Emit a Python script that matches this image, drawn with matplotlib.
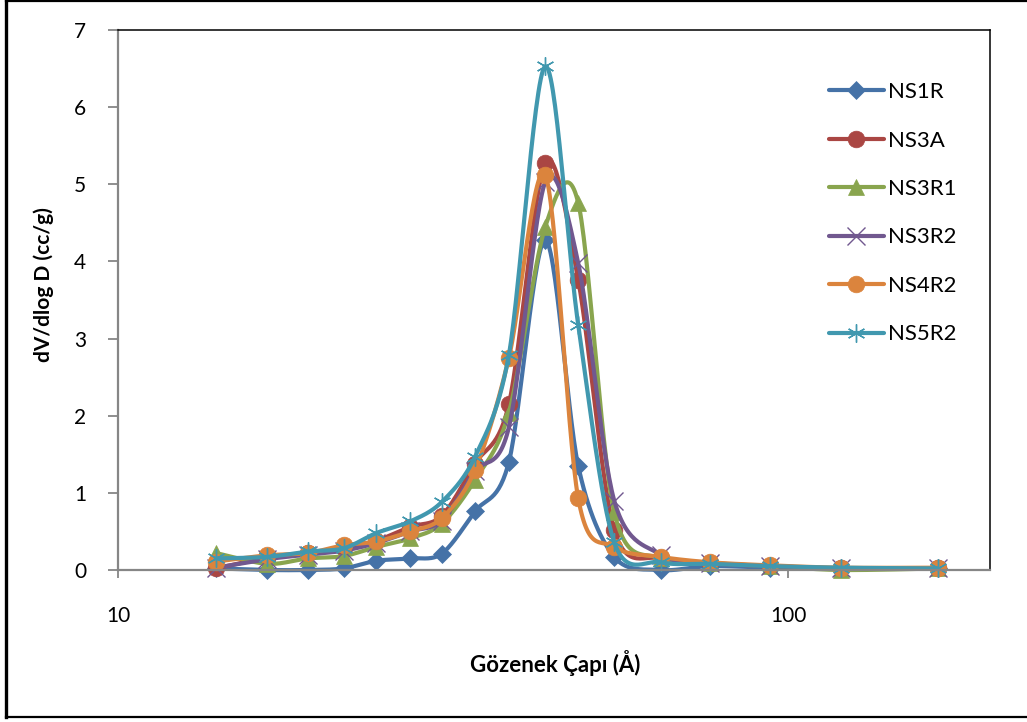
import numpy as np
import matplotlib.pyplot as plt
from matplotlib.lines import Line2D
from matplotlib.ticker import FixedLocator, NullLocator, FixedFormatter

plt.rcParams['font.family'] = ['Lato', 'DejaVu Sans']

# gözenek çapı (Å) ve dV/dlogD değerleri
pore_d = [14.0, 16.7, 19.2, 21.7, 24.3, 27.3, 30.4, 34.1, 38.3, 43.4,
          48.6, 55.0, 64.5, 76.4, 94.0, 120.0, 167.0]

ns1r = [0.02, 0.0, 0.0, 0.02, 0.12, 0.15, 0.21, 0.76, 1.40, 4.28,
        1.35, 0.17, 0.0, 0.05, 0.03, 0.02, 0.02]
ns3a = [0.02, 0.16, 0.22, 0.28, 0.38, 0.56, 0.70, 1.38, 2.15, 5.28,
        3.76, 0.52, 0.15, 0.09, 0.05, 0.02, 0.02]
ns3r1 = [0.22, 0.08, 0.15, 0.18, 0.30, 0.41, 0.60, 1.17, 2.04, 4.45,
         4.76, 0.75, 0.15, 0.09, 0.05, 0.0, 0.02]
ns3r2 = [0.03, 0.14, 0.20, 0.25, 0.35, 0.50, 0.64, 1.28, 1.85, 5.03,
         3.98, 0.90, 0.20, 0.09, 0.05, 0.02, 0.02]
ns4r2 = [0.11, 0.19, 0.22, 0.32, 0.37, 0.50, 0.67, 1.30, 2.75, 5.12,
         0.93, 0.30, 0.17, 0.10, 0.06, 0.03, 0.03]
ns5r2 = [0.15, 0.17, 0.24, 0.28, 0.48, 0.63, 0.88, 1.47, 2.79, 6.53,
         3.18, 0.36, 0.10, 0.08, 0.05, 0.03, 0.02]

names = ['NS1R', 'NS3A', 'NS3R1', 'NS3R2', 'NS4R2', 'NS5R2']
series = [ns1r, ns3a, ns3r1, ns3r2, ns4r2, ns5r2]
colors = ['#4572A7', '#AA4643', '#89A54E', '#71588F', '#DB843D', '#4198AF']
markers = ['D', 'o', '^', 'x', 'o', (6, 2, 0)]
msizes = [9, 12, 11, 13, 12, 13]

N = 30


def smooth(x, y, n=N, k=1 / 6.5):
    # excel tarzı yumuşatılmış çizgi (bezier, log x ekseninde)
    P = np.column_stack([np.log10(x), np.asarray(y, float)])
    Pe = np.vstack([P[0], P, P[-1]])
    t = np.linspace(0, 1, n + 1)[1:, None]
    out = [P[0:1]]
    for i in range(len(P) - 1):
        p0, p1, p2, p3 = Pe[i], Pe[i + 1], Pe[i + 2], Pe[i + 3]
        c1 = p1 + (p2 - p0) * k
        c2 = p2 - (p3 - p1) * k
        out.append((1 - t)**3 * p1 + 3 * (1 - t)**2 * t * c1
                   + 3 * (1 - t) * t**2 * c2 + t**3 * p2)
    pts = np.vstack(out)
    return 10**pts[:, 0], pts[:, 1]


fig = plt.figure(figsize=(10.27, 7.22), dpi=100)
ax = fig.add_axes([118 / 1027, 1 - 570 / 722, 872 / 1027, 540 / 722])

for name, ys, c, m, ms in zip(names, series, colors, markers, msizes):
    sx, sy = smooth(pore_d, ys)
    thin = m in ('x', (6, 2, 0))
    ax.plot(sx, sy, color=c, lw=3.0, marker=m, ms=ms,
            markevery=list(range(0, len(sx), N)),
            mew=1.0 if thin else 0.5, mec=c, mfc=c, label=name,
            solid_capstyle='round', clip_on=False)

ax.set_xscale('log')
ax.set_xlim(10, 200)
ax.set_ylim(0, 7)
ax.xaxis.set_major_locator(FixedLocator([10, 100]))
ax.xaxis.set_major_formatter(FixedFormatter(['10', '100']))
ax.xaxis.set_minor_locator(NullLocator())
ax.set_yticks(range(0, 8))

for s in ['left', 'bottom']:
    ax.spines[s].set_color('#868686')
    ax.spines[s].set_linewidth(1.6)
for s in ['top', 'right']:
    ax.spines[s].set_color('black')
    ax.spines[s].set_linewidth(1.1)
ax.tick_params(axis='y', length=7, width=1.3, color='#868686', pad=16, labelsize=15)
ax.tick_params(axis='x', length=6, width=1.3, color='#868686', pad=20, labelsize=15)

fig.text(555 / 1027, 1 - 663 / 722, 'Gözenek Çapı (Å)', fontsize=16, fontweight='bold',
         ha='center', va='center')
fig.text(44 / 1027, 1 - 285 / 722, 'dV/dlog D (cc/g)', fontsize=15, fontweight='bold',
         ha='center', va='center', rotation=90)

ax.legend(loc='upper left', bbox_to_anchor=(818 / 1027, 1 - 71 / 722),
          bbox_transform=fig.transFigure, frameon=False, fontsize=16,
          handlelength=2.45, handletextpad=0.2, labelspacing=1.28, borderpad=0)

# dış çerçeve
fig.add_artist(Line2D([6 / 1027, 6 / 1027], [1 - 717 / 722, 1], color='black', lw=2.4,
                      transform=fig.transFigure))
fig.add_artist(Line2D([6 / 1027, 1], [1 - 717 / 722, 1 - 717 / 722], color='black', lw=1.6,
                      transform=fig.transFigure))
fig.add_artist(Line2D([6 / 1027, 1], [1 - 1 / 722, 1 - 1 / 722], color='black', lw=1.6,
                      transform=fig.transFigure))

fig.savefig('out.png', dpi=100)
